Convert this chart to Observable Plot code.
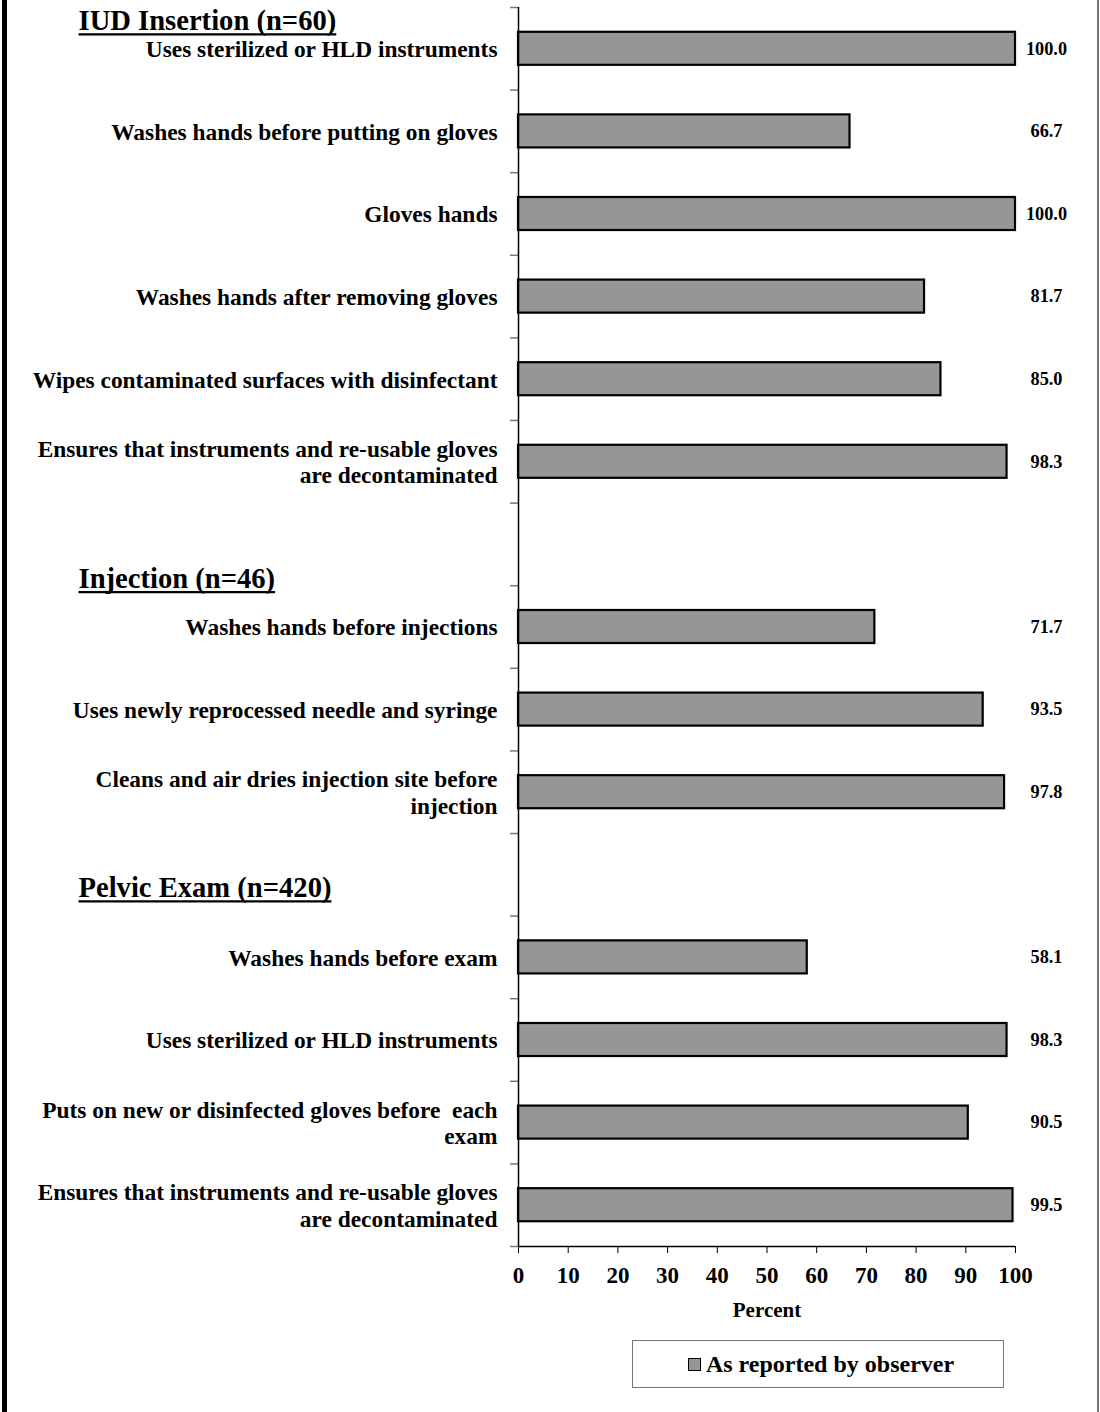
<!DOCTYPE html>
<html>
<head>
<meta charset="utf-8">
<script src="https://cdn.jsdelivr.net/npm/d3@7"></script>
<script src="https://cdn.jsdelivr.net/npm/@observablehq/plot@0.6"></script>
<style>
  html, body { margin: 0; padding: 0; background: #fff; }
  #page { position: relative; width: 1100px; height: 1412px; overflow: hidden; background: #fff;
          font-family: "Liberation Serif", "Times New Roman", serif; }
  #edge-left { position: absolute; left: 2px; top: 0; width: 5px; height: 1412px; background: #000; }
  #edge-right { position: absolute; left: 1097px; top: 0; width: 2px; height: 1412px; background: #777; }
  #chart svg { display: block; }
  #legend { position: absolute; left: 632px; top: 1340px; width: 370px; height: 46px;
            border: 1px solid #777; background: #fff; display: flex; align-items: center;
            justify-content: center; font-weight: bold; font-size: 24px; color: #000; }
  #legend .swatch { display: inline-block; width: 11px; height: 11px; background: #969696;
                    border: 1.5px solid #000; margin-right: 5px; margin-left: 6px; }
</style>
</head>
<body>
<div id="page">
  <div id="chart"></div>
  <div id="legend"><span class="swatch"></span><span>As reported by observer</span></div>
  <div id="edge-left"></div>
  <div id="edge-right"></div>
</div>
<script>
// Procedure groups (section headers)
const groups = ["IUD Insertion (n=60)", "Injection (n=46)", "Pelvic Exam (n=420)"];

// Infection-prevention practices, in display order
const practices = [
  "Uses sterilized or HLD instruments",
  "Washes hands before putting on gloves",
  "Gloves hands",
  "Washes hands after removing gloves",
  "Wipes contaminated surfaces with disinfectant",
  "Ensures that instruments and re-usable gloves\nare decontaminated",
  "Washes hands before injections",
  "Uses newly reprocessed needle and syringe",
  "Cleans and air dries injection site before\ninjection",
  "Washes hands before exam",
  "Uses sterilized or HLD instruments",
  "Puts on new or disinfected gloves before  each\nexam",
  "Ensures that instruments and re-usable gloves\nare decontaminated"
];

// Group index of each practice
const practiceGroup = [0, 0, 0, 0, 0, 0, 1, 1, 1, 2, 2, 2, 2];

// Percent of observed providers performing the practice
const percents = [100.0, 66.7, 100.0, 81.7, 85.0, 98.3, 71.7, 93.5, 97.8, 58.1, 98.3, 90.5, 99.5];

// Percent axis ticks
const percentTicks = [0, 10, 20, 30, 40, 50, 60, 70, 80, 90, 100];

// Build rows with unique band keys (a few practice labels repeat across groups)
const rows = practices.map((label, i) => ({
  key: `${practiceGroup[i]}:${i}`,
  label,
  group: practiceGroup[i],
  value: percents[i]
}));

// Band domain: an empty spacer band ahead of every group but the first
const spacerKey = g => `gap:${g}`;
const domain = [];
groups.forEach((g, gi) => {
  if (gi > 0) domain.push(spacerKey(gi));
  rows.filter(r => r.group === gi).forEach(r => domain.push(r.key));
});

const W = 1100, H = 1338;
const mTop = 7, mBottom = 92, mLeft = 518, mRight = 85;
const step = (H - mTop - mBottom) / domain.length;
const font = "'Liberation Serif', 'Times New Roman', serif";
const firstOf = gi => rows.find(r => r.group === gi).key;
const lastKey = domain[domain.length - 1];

const chart = Plot.plot({
  width: W,
  height: H,
  marginTop: mTop,
  marginBottom: mBottom,
  marginLeft: mLeft,
  marginRight: mRight,
  style: { fontFamily: font, background: "transparent", color: "#000", overflow: "visible" },
  x: { domain: [0, 100], axis: null },
  y: { domain, paddingInner: 0.6, paddingOuter: 0.3, round: false, axis: null },
  marks: [
    // category tick marks between bands
    Plot.ruleY(domain, { y: d => d, x1: -1.6, x2: 0, dy: -step / 2, stroke: "#777", strokeWidth: 1.5 }),
    Plot.ruleY([lastKey], { y: d => d, x1: -1.6, x2: 0, dy: step / 2, stroke: "#777", strokeWidth: 1.5 }),
    // bars
    Plot.barX(rows, { x: "value", y: "key", fill: "#969696", stroke: "#000", strokeWidth: 2.2 }),
    // axis lines
    Plot.ruleX([0], { stroke: "#000", strokeWidth: 1.5 }),
    Plot.ruleY([lastKey], { y: d => d, x1: 0, x2: 100, dy: step / 2, stroke: "#000", strokeWidth: 1.5 }),
    // percent axis ticks and labels
    Plot.axisX({ ticks: percentTicks, tickSize: 7, tickPadding: 13, fontSize: 23, fontWeight: "bold",
                 stroke: "#000", fill: "#000", label: null, tickFormat: d => String(d) }),
    Plot.text(["Percent"], { frameAnchor: "bottom", dy: 70, fontSize: 21, fontWeight: "bold", fill: "#000" }),
    // practice labels
    Plot.text(rows, { x: 0, y: "key", text: "label", dx: -21, textAnchor: "end", lineAnchor: "middle",
                      lineHeight: 1.12, fontSize: 23.4, fontWeight: "bold", fill: "#000" }),
    // value labels
    Plot.text(rows, { x: 100, y: "key", text: d => d.value.toFixed(1), dx: 31, textAnchor: "middle",
                      fontSize: 18.3, fontWeight: "bold", fill: "#000" }),
    // group headers
    Plot.text([groups[0]], { x: 0, y: [firstOf(0)], text: d => d, dx: -440, dy: -28, textAnchor: "start",
                             fontSize: 28.6, fontWeight: "bold", fill: "#000" }),
    Plot.text([groups[1]], { x: 0, y: [spacerKey(1)], text: d => d, dx: -440, dy: 34, textAnchor: "start",
                             fontSize: 28.6, fontWeight: "bold", fill: "#000" }),
    Plot.text([groups[2]], { x: 0, y: [spacerKey(2)], text: d => d, dx: -440, dy: 13, textAnchor: "start",
                             fontSize: 28.6, fontWeight: "bold", fill: "#000" })
  ]
});

document.getElementById("chart").appendChild(chart);

// Underline each group header with a solid rule measured from the rendered text
const svgNS = "http://www.w3.org/2000/svg";
d3.select(chart).selectAll("text")
  .filter(function () { return groups.includes(this.textContent); })
  .each(function () {
    const box = this.getBBox();
    const line = document.createElementNS(svgNS, "line");
    const yLine = box.y + box.height - 2.5;
    line.setAttribute("x1", box.x);
    line.setAttribute("x2", box.x + box.width);
    line.setAttribute("y1", yLine);
    line.setAttribute("y2", yLine);
    line.setAttribute("stroke", "#000");
    line.setAttribute("stroke-width", "2.2");
    const t = this.getAttribute("transform");
    if (t) line.setAttribute("transform", t);
    this.parentNode.appendChild(line);
  });
</script>
</body>
</html>
